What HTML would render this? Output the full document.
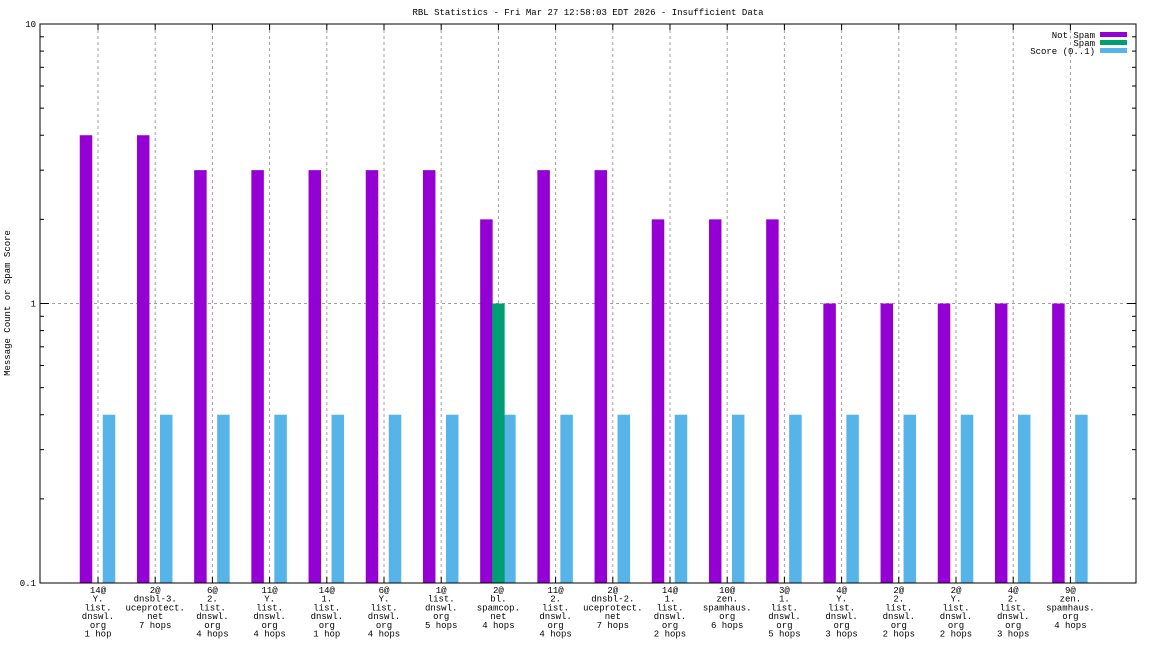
<!DOCTYPE html>
<html><head><meta charset="utf-8"><style>
body{margin:0;background:#fff}
svg{display:block;font-family:"Liberation Mono",monospace;font-size:9px}
</style></head><body>
<svg id="c" width="1152" height="648">
<text x="588" y="15" text-anchor="middle">RBL Statistics - Fri Mar 27 12:58:03 EDT 2026 - Insufficient Data</text>
<text transform="translate(10,303) rotate(-90)" text-anchor="middle">Message Count or Spam Score</text>
</svg>
<script>
const categories=[["14@","Y.","list.","dnswl.","org","1 hop"],["2@","dnsbl-3.","uceprotect.","net","7 hops"],["6@","2.","list.","dnswl.","org","4 hops"],["11@","Y.","list.","dnswl.","org","4 hops"],["14@","1.","list.","dnswl.","org","1 hop"],["6@","Y.","list.","dnswl.","org","4 hops"],["1@","list.","dnswl.","org","5 hops"],["2@","bl.","spamcop.","net","4 hops"],["11@","2.","list.","dnswl.","org","4 hops"],["2@","dnsbl-2.","uceprotect.","net","7 hops"],["14@","1.","list.","dnswl.","org","2 hops"],["10@","zen.","spamhaus.","org","6 hops"],["3@","1.","list.","dnswl.","org","5 hops"],["4@","Y.","list.","dnswl.","org","3 hops"],["2@","2.","list.","dnswl.","org","2 hops"],["2@","Y.","list.","dnswl.","org","2 hops"],["4@","2.","list.","dnswl.","org","3 hops"],["9@","zen.","spamhaus.","org","4 hops"]];
const notSpam=[4,4,3,3,3,3,3,2,3,3,2,2,2,1,1,1,1,1];
const spam=[0,0,0,0,0,0,0,1,0,0,0,0,0,0,0,0,0,0];
const score=[0.4,0.4,0.4,0.4,0.4,0.4,0.4,0.4,0.4,0.4,0.4,0.4,0.4,0.4,0.4,0.4,0.4,0.4];
const yTicks=[0.1,1,10];
const yLabels=["0.1","1","10"];
const svg=document.getElementById('c');const NS='http://www.w3.org/2000/svg';
const L=40,R=1136,T=24,B=583;
const y=v=>B-(Math.log10(v)+1)/2*(B-T);
const x=i=>98+i*57.2;
function mk(t,a,p){const e=document.createElementNS(NS,t);for(const k in a)e.setAttribute(k,a[k]);(p||svg).appendChild(e);return e;}
// grid
categories.forEach((c,i)=>{const g=mk('line',{x1:x(i),x2:x(i),y1:T,y2:B,stroke:'#a0a0a0','stroke-dasharray':'3,3'});


mk('line',{x1:x(i),x2:x(i),y1:B,y2:B-6,stroke:'#000'});mk('line',{x1:x(i),x2:x(i),y1:T,y2:T+6,stroke:'#000'});});
const hg=mk('line',{x1:L,x2:R,y1:y(1),y2:y(1),stroke:'#a0a0a0','stroke-dasharray':'3,3'});


// minor ticks
[0.1,1].forEach(d=>{for(let k=1;k<=10;k++){const yy=y(d*k);const len=(k==1||k==10)?9:4;
mk('line',{x1:L,x2:L+len,y1:yy,y2:yy,stroke:'#000'});mk('line',{x1:R,x2:R-len,y1:yy,y2:yy,stroke:'#000'});}});
yTicks.forEach((v,i)=>{const t=mk('text',{x:L-4,y:y(v)+3,'text-anchor':'end'});t.textContent=yLabels[i];

});
// bars
const bw=12.5;
function bar(v,cx,col,name){if(v<=0)return;const b=mk('rect',{x:cx-bw/2,y:y(v),width:bw,height:B-y(v),fill:col});

}
categories.forEach((c,i)=>{
bar(notSpam[i],x(i)-12,'#9400d3','bar-not-spam');
bar(score[i],x(i)+11,'#56b4e9','bar-score');
bar(spam[i],x(i),'#009e73','bar-spam');
const t=mk('text',{x:x(i),y:B+10,'text-anchor':'middle'});


c.forEach((ln,j)=>{const s=mk('tspan',{x:x(i),dy:j?8.7:0},t);s.textContent=ln;});});
mk('rect',{x:L,y:T,width:R-L,height:B-T,fill:'none',stroke:'#000'});
// legend
const leg=[["Not Spam","#9400d3"],["Spam","#009e73"],["Score (0..1)","#56b4e9"]];
leg.forEach((l,i)=>{const yy=36+i*8;const t=mk('text',{x:1095,y:yy+2,'text-anchor':'end'});t.textContent=l[0];


mk('rect',{x:1100,y:yy-4,width:27,height:5,fill:l[1]});});
</script>
</body></html>
